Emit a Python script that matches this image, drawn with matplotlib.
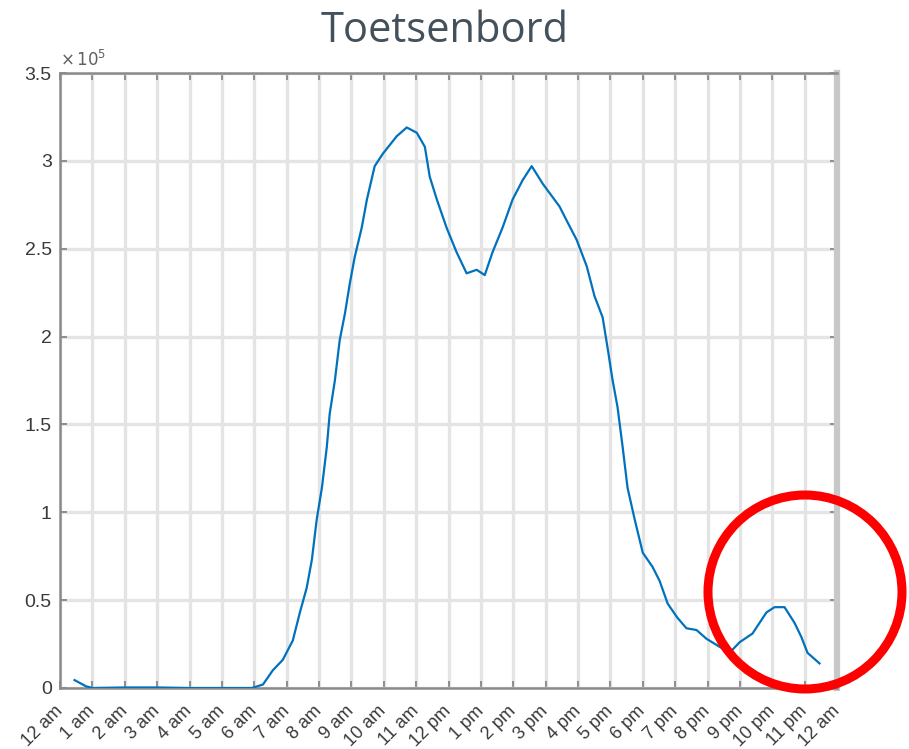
import matplotlib
matplotlib.use("Agg")
import matplotlib.pyplot as plt
from matplotlib.patches import Ellipse
import numpy as np

# ---- data (hour of day, value in units of 1e5) ----
hours = [0.45, 0.6, 0.8, 1.0, 2.0, 3.0, 4.0, 5.0, 5.93, 6.27, 6.57, 6.88, 7.19, 7.41,
         7.62, 7.78, 7.93, 8.09, 8.24, 8.33, 8.49, 8.64, 8.8, 8.95, 9.1, 9.32, 9.48,
         9.72, 9.97, 10.4, 10.71, 11.02, 11.27, 11.42, 11.64, 11.94, 12.25, 12.56,
         12.87, 13.12, 13.36, 13.67, 13.98, 14.29, 14.57, 14.91, 15.43, 15.65, 15.96,
         16.27, 16.51, 16.76, 16.91, 17.07, 17.22, 17.38, 17.53, 17.75, 18.0, 18.3,
         18.52, 18.77, 19.07, 19.35, 19.66, 19.97, 20.68, 20.99, 21.39, 21.82, 22.07,
         22.38, 22.69, 22.9, 23.09, 23.46]
values_e5 = [0.045, 0.03, 0.01, 0.0, 0.003, 0.003, 0.0, 0.0, 0.0, 0.02, 0.1, 0.16, 0.27,
             0.43, 0.57, 0.73, 0.96, 1.14, 1.37, 1.56, 1.75, 1.98, 2.13, 2.30, 2.45, 2.62,
             2.78, 2.97, 3.04, 3.14, 3.19, 3.16, 3.08, 2.91, 2.78, 2.62, 2.48, 2.36, 2.38,
             2.35, 2.48, 2.62, 2.78, 2.89, 2.97, 2.87, 2.74, 2.66, 2.55, 2.40, 2.23, 2.11,
             1.94, 1.75, 1.60, 1.37, 1.14, 0.96, 0.77, 0.69, 0.61, 0.48, 0.40, 0.34, 0.33,
             0.28, 0.2, 0.26, 0.31, 0.43, 0.46, 0.46, 0.37, 0.29, 0.2, 0.14]
x_tick_labels = ['12 am', '1 am', '2 am', '3 am', '4 am', '5 am', '6 am', '7 am', '8 am',
                 '9 am', '10 am', '11 am', '12 pm', '1 pm', '2 pm', '3 pm', '4 pm', '5 pm',
                 '6 pm', '7 pm', '8 pm', '9 pm', '10 pm', '11 pm', '12 am']
y_ticks = [0, 0.5, 1, 1.5, 2, 2.5, 3, 3.5]
y_tick_labels = ['0', '0.5', '1', '1.5', '2', '2.5', '3', '3.5']
title = 'Toetsenbord'

plt.rcParams['font.family'] = ['Liberation Sans', 'DejaVu Sans']

W, H = 909, 749
fig = plt.figure(figsize=(W / 100, H / 100), dpi=100)
ax = fig.add_axes([60 / W, 1 - 688 / H, (837 - 60) / W, (688 - 73) / H])

ax.plot(hours, values_e5, color='#0072BD', lw=1.6, zorder=3, solid_joinstyle='round')

ax.set_xlim(0, 24)
ax.set_ylim(0, 3.5)
ax.set_xticks(range(25))
ax.set_xticklabels(x_tick_labels, rotation=45, ha='right', va='center',
                   rotation_mode='anchor', fontsize=13, color='#3a3a3a')
ax.set_yticks(y_ticks)
ax.set_yticklabels(y_tick_labels, fontsize=14, color='#3a3a3a')
ax.tick_params(axis='both', direction='in', length=5, width=1.2, color='#808080',
               top=True, right=True)
ax.tick_params(axis='x', pad=15)
ax.tick_params(axis='y', pad=6)

ax.grid(True, color='#e4e4e4', lw=2.4)
ax.set_axisbelow(True)
for side in ['left', 'bottom', 'top']:
    ax.spines[side].set_color('#8a8a8a')
    ax.spines[side].set_linewidth(1.8)
ax.spines['right'].set_color('#c8c8c8')
ax.spines['right'].set_linewidth(4.5)

ax.text(0.0, 1.006, r'$\times\,10^5$', transform=ax.transAxes, fontsize=12,
        color='#606060', ha='left', va='bottom')

fig.text(445 / W, 1 - 31 / H, title, fontsize=30, color='#44505a',
         family=['Open Sans', 'DejaVu Sans'], ha='center', va='center')

# red annotation circle (figure coordinates)
circ = Ellipse((805 / W, 1 - 592 / H), width=2 * 97 / W, height=2 * 97 / H,
               transform=fig.transFigure, fill=False, edgecolor='#ff0000', lw=6.5,
               zorder=10, clip_on=False)
fig.patches.append(circ)

fig.savefig('out.png', dpi=100)
